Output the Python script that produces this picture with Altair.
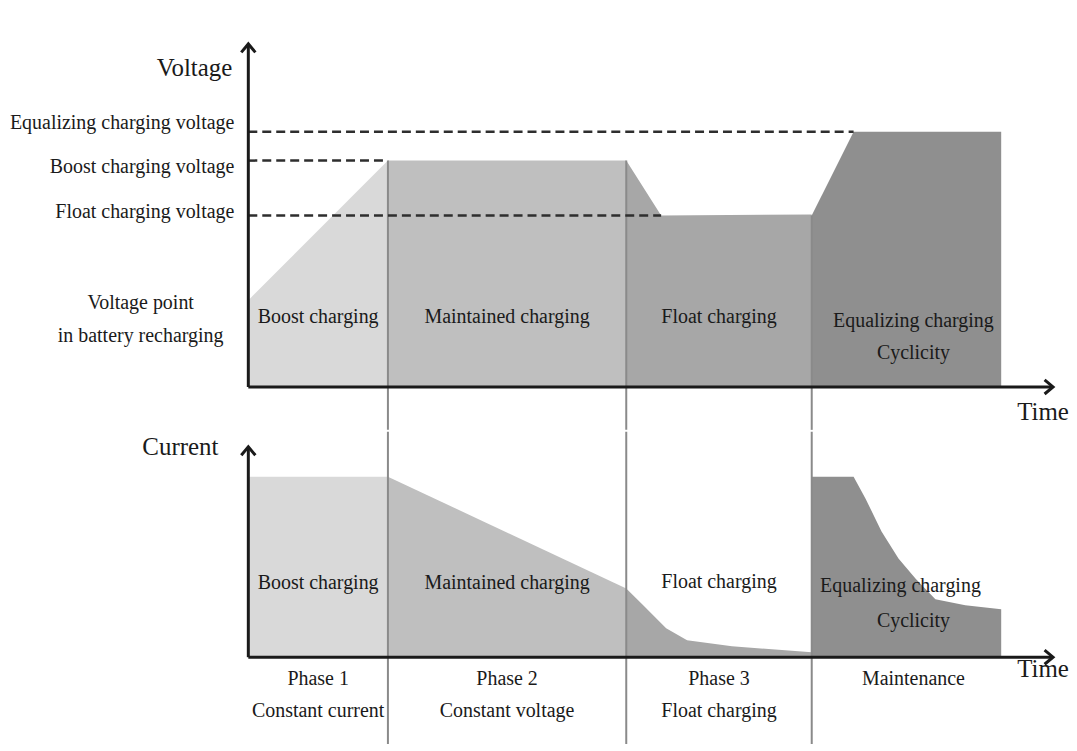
import altair as alt
import pandas as pd

FONT = "Liberation Serif"
INK = "#1a1a1a"
LBL = 20
BIG = 25

# ---- phases (time axis, origin of the axes = 0) ----
phase_names = ["Boost charging", "Maintained charging", "Float charging", "Equalizing charging"]
phase_start = [0, 140, 379, 565]
phase_end = [140, 379, 565, 755]
phase_colors = ["#d9d9d9", "#bfbfbf", "#a7a7a7", "#8f8f8f"]
phase_line1 = ["Phase 1", "Phase 2", "Phase 3", "Maintenance"]
phase_line2 = ["Constant current", "Constant voltage", "Float charging", ""]

# ---- voltage levels ----
level_names = ["Equalizing charging voltage", "Boost charging voltage", "Float charging voltage"]
level_values = [256, 227, 172]
level_reached_at = [607, 140, 414]

# ---- voltage curve, per phase ----
v_time = {
    "Boost charging": [0, 140],
    "Maintained charging": [140, 379],
    "Float charging": [379, 414, 565],
    "Equalizing charging": [565, 607, 755],
}
v_vals = {
    "Boost charging": [87, 227],
    "Maintained charging": [227, 227],
    "Float charging": [227, 172, 173],
    "Equalizing charging": [172, 256, 256],
}

# ---- current curve, per phase ----
c_time = {
    "Boost charging": [0, 140],
    "Maintained charging": [140, 379],
    "Float charging": [379, 395, 419, 440, 485, 565],
    "Equalizing charging": [565, 607, 619, 635, 652, 669, 689, 719, 755],
}
c_vals = {
    "Boost charging": [181, 181],
    "Maintained charging": [181, 69],
    "Float charging": [69, 53, 29, 17, 11, 5],
    "Equalizing charging": [181, 181, 159, 126, 99, 79, 58, 52, 48],
}

V_AXIS_TOP = 344
C_AXIS_TOP = 211
T_AXIS_END = 807

W = 1061
H1 = 422
H2 = 313
XDOM = [-241, 820]
VDOM = [-43, 379]
CDOM = [-87, 226]

xs = alt.Scale(domain=XDOM, nice=False, zero=False)
vs = alt.Scale(domain=VDOM, nice=False, zero=False)
cs = alt.Scale(domain=CDOM, nice=False, zero=False)
color_scale = alt.Scale(domain=phase_names, range=phase_colors)


def curve_df(times, vals):
    rows = []
    for name in phase_names:
        for t, v in zip(times[name], vals[name]):
            rows.append({"phase": name, "t": t, "y": v, "base": 0})
    return pd.DataFrame(rows)


def panel(curves, yscale, h, axis_top, vlines_top, extra_layers):
    areas = alt.Chart(curves).mark_area(opacity=1).encode(
        x=alt.X("t:Q", scale=xs, axis=None),
        y=alt.Y("y:Q", scale=yscale, axis=None, stack=None),
        y2="base:Q",
        color=alt.Color("phase:N", scale=color_scale, legend=None),
        detail="phase:N",
    )
    bounds = pd.DataFrame({"t": phase_end[:3], "top": vlines_top})
    vlines = alt.Chart(bounds).mark_rule(color="#8a8a8a", strokeWidth=2).encode(
        x=alt.X("t:Q", scale=xs, axis=None),
        y=alt.Y("top:Q", scale=yscale, axis=None),
        y2=alt.value(h),
    )
    axes_df = pd.DataFrame({"t": [0], "t2": [T_AXIS_END], "top": [axis_top], "zero": [0]})
    yaxis = alt.Chart(axes_df).mark_rule(color=INK, strokeWidth=3).encode(
        x=alt.X("t:Q", scale=xs, axis=None),
        y=alt.Y("zero:Q", scale=yscale, axis=None),
        y2="top:Q",
    )
    xaxis = alt.Chart(axes_df).mark_rule(color=INK, strokeWidth=3).encode(
        x=alt.X("t:Q", scale=xs, axis=None),
        x2="t2:Q",
        y=alt.Y("zero:Q", scale=yscale, axis=None),
    )
    up = alt.Chart(axes_df).mark_point(
        shape="M-1,1.2L0,0L1,1.2", size=200, filled=False, color=INK, strokeWidth=3, opacity=1
    ).encode(
        x=alt.X("t:Q", scale=xs, axis=None),
        y=alt.Y("top:Q", scale=yscale, axis=None),
    )
    right = alt.Chart(axes_df).mark_point(
        shape="M-1.2,-1L0,0L-1.2,1", size=200, filled=False, color=INK, strokeWidth=3, opacity=1
    ).encode(
        x=alt.X("t2:Q", scale=xs, axis=None),
        y=alt.Y("zero:Q", scale=yscale, axis=None),
    )
    return alt.layer(areas, vlines, *extra_layers, yaxis, xaxis, up, right).properties(
        width=W, height=h
    )


def text_layer(df, yscale, align="center", size=LBL):
    return alt.Chart(df).mark_text(
        font=FONT, fontSize=size, align=align, baseline="middle", color=INK
    ).encode(
        x=alt.X("t:Q", scale=xs, axis=None),
        y=alt.Y("y:Q", scale=yscale, axis=None),
        text="label:N",
    )


# ---------------- voltage panel ----------------
dash_df = pd.DataFrame({"t": [0] * 3, "t2": level_reached_at, "y": level_values})
dashes = alt.Chart(dash_df).mark_rule(color="#2e2e2e", strokeWidth=2.5, strokeDash=[9, 5]).encode(
    x=alt.X("t:Q", scale=xs, axis=None),
    x2="t2:Q",
    y=alt.Y("y:Q", scale=vs, axis=None),
)

mid = [(a + b) / 2 for a, b in zip(phase_start, phase_end)]
v_labels = pd.DataFrame({
    "label": phase_names[:3] + ["Equalizing charging", "Cyclicity"],
    "t": mid[:3] + [667, 667],
    "y": [70, 70, 70, 66, 34],
})
v_left = pd.DataFrame({"label": level_names, "t": [-14, -14, -14], "y": [265, 221, 175]})
v_title = pd.DataFrame({"label": ["Voltage"], "t": [-16], "y": [320]})
v_point = pd.DataFrame({"label": ["Voltage point", "in battery recharging"],
                        "t": [-108, -108], "y": [84, 51]})
v_time_lbl = pd.DataFrame({"label": ["Time"], "t": [797], "y": [-25]})

voltage = panel(
    curve_df(v_time, v_vals), vs, H1, V_AXIS_TOP, [227, 227, 172],
    [
        dashes,
        text_layer(v_labels, vs),
        text_layer(v_left, vs, align="right"),
        text_layer(v_title, vs, align="right", size=BIG),
        text_layer(v_point, vs),
        text_layer(v_time_lbl, vs, size=BIG),
    ],
)

# ---------------- current panel ----------------
c_labels = pd.DataFrame({
    "label": phase_names[:3] + ["Equalizing charging", "Cyclicity"],
    "t": mid[:3] + [654, 667],
    "y": [74, 74, 75, 71, 36],
})
c_phase = pd.DataFrame({
    "label": phase_line1 + phase_line2,
    "t": [mid[0], mid[1], mid[2], 667] * 2,
    "y": [-22] * 4 + [-54] * 4,
})
c_cur = pd.DataFrame({"label": ["Current"], "t": [-30], "y": [211]})
c_time_lbl = pd.DataFrame({"label": ["Time"], "t": [797], "y": [-12]})

current = panel(
    curve_df(c_time, c_vals), cs, H2, C_AXIS_TOP, [CDOM[1]] * 3,
    [
        text_layer(c_labels, cs),
        text_layer(c_phase, cs),
        text_layer(c_cur, cs, align="right", size=BIG),
        text_layer(c_time_lbl, cs, size=BIG),
    ],
)

chart = alt.vconcat(voltage, current, spacing=0).properties(
    padding=0, background="white"
).configure_view(stroke=None)

chart.save("out.html", embed_options={"renderer": "svg", "actions": False})
